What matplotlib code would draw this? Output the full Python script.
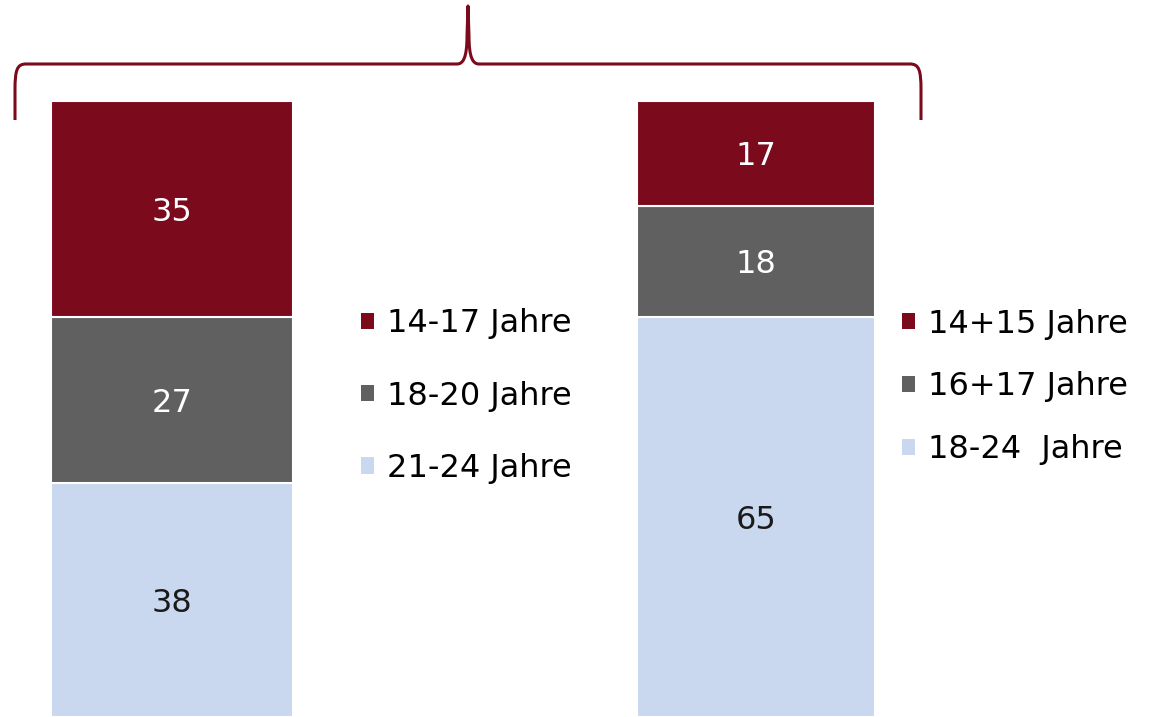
import matplotlib.pyplot as plt
from matplotlib.path import Path
from matplotlib.patches import PathPatch, Patch

plt.rcParams['font.family'] = ['DejaVu Sans']

# stacked shares per bar, bottom segment first
left_labels = ["21-24 Jahre", "18-20 Jahre", "14-17 Jahre"]
left_values = [38, 27, 35]
right_labels = ["18-24  Jahre", "16+17 Jahre", "14+15 Jahre"]
right_values = [65, 18, 17]

colors = ["#C9D8EE", "#606060", "#7B0A1D"]
text_colors = ["#1a1a1a", "white", "white"]
red = "#7B0A1D"
fs = 23

fig = plt.figure(figsize=(11.51, 7.17), dpi=100)
ax = fig.add_axes([0, 0, 1, 1])
ax.set_xlim(-172 / 584, (1151 - 172) / 584)
ax.set_ylim(0, 717 / 616 * 100)
ax.axis("off")

positions = [0, 1]
widths = [242 / 584, 238 / 584]
for pos, w, vals in zip(positions, widths, [left_values, right_values]):
    bottom = 0
    for v, c, tc in zip(vals, colors, text_colors):
        ax.bar(pos, v, bottom=bottom, width=w, color=c, edgecolor="white", linewidth=1.5)
        ax.text(pos, bottom + v / 2, str(v), ha="center", va="center_baseline",
                color=tc, fontsize=fs)
        bottom += v


def make_legend(labels, loc_xy, spacing):
    handles = [Patch(facecolor=c, edgecolor="none") for c in colors[::-1]]
    return ax.legend(handles, labels[::-1], loc="center left", bbox_to_anchor=loc_xy,
                     bbox_transform=fig.transFigure, frameon=False, fontsize=fs,
                     handlelength=0.42, handleheight=0.42, handletextpad=0.4,
                     labelspacing=spacing, borderpad=0, borderaxespad=0)


leg1 = make_legend(left_labels, (361 / 1151, 1 - 396 / 717), 1.29)
ax.add_artist(leg1)
make_legend(right_labels, (902 / 1151, 1 - 387 / 717), 1.0)

# curly brace spanning both bars, in pixel coordinates
over = fig.add_axes([0, 0, 1, 1], facecolor="none")
over.set_xlim(0, 1151)
over.set_ylim(717, 0)
over.axis("off")
verts = [
    (15, 120), (15, 90),
    (15, 70), (17, 64), (26, 64),
    (457, 64),
    (463, 64), (467, 58), (467, 36),
    (468, 6),
    (469, 36),
    (469, 58), (473, 64), (479, 64),
    (910, 64),
    (919, 64), (921, 70), (921, 90),
    (921, 120),
]
codes = [Path.MOVETO, Path.LINETO,
         Path.CURVE4, Path.CURVE4, Path.CURVE4,
         Path.LINETO,
         Path.CURVE4, Path.CURVE4, Path.CURVE4,
         Path.LINETO,
         Path.LINETO,
         Path.CURVE4, Path.CURVE4, Path.CURVE4,
         Path.LINETO,
         Path.CURVE4, Path.CURVE4, Path.CURVE4,
         Path.LINETO]
over.add_patch(PathPatch(Path(verts, codes), fill=False, edgecolor=red, linewidth=2.2,
                         capstyle="butt", joinstyle="round"))

fig.savefig("out.png", dpi=100)
